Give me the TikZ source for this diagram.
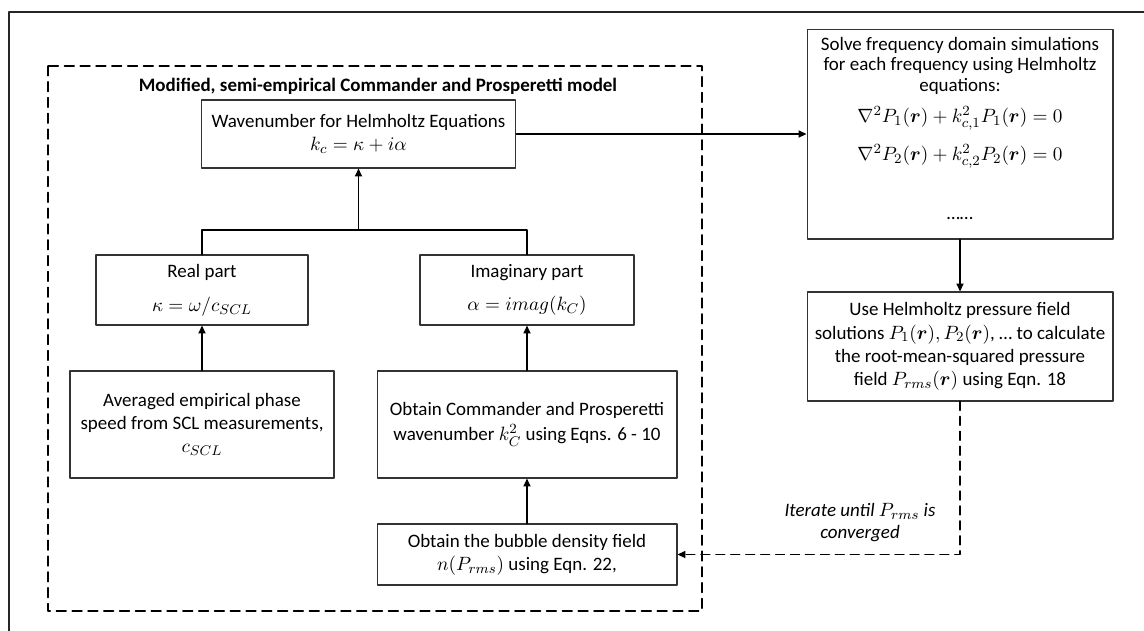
\documentclass[tikz,border=0pt]{standalone}
\usepackage{fontspec}
\usepackage{amsmath}
\setmainfont{Carlito}
\usetikzlibrary{arrows.meta}

\begin{document}
\begin{tikzpicture}[x=0.02cm, y=-0.02cm, line cap=round, line join=round,
    >={Triangle[length=4.5pt,width=4pt]},
    box/.style={draw=black!80, line width=0.6pt, align=center, inner sep=2pt,
      font=\fontsize{10.8}{13.2}\selectfont},
    flow/.style={->, line width=0.9pt},
    iterline/.style={->, line width=0.9pt, dash pattern=on 5pt off 3.5pt}]
  \useasboundingbox (0,0) rectangle (1144,630);

  % Outer frame (top and left edges)
  \draw[line width=0.9pt, black!85] (9,640) -- (9,12) -- (1150,12);

  % Model region
  \draw[line width=0.9pt, dash pattern=on 5.5pt off 3.5pt] (48,66) rectangle (702,611);
  \node[font=\fontsize{10.8}{12}\selectfont\bfseries] (title) at (378,86)
    {Modified, semi-empirical Commander and Prosperetti model};

  % Boxes
  \node[box, minimum width=6.3cm, minimum height=1.36cm] (wave) at (358.5,134)
    {Wavenumber for Helmholtz Equations\\ $k_c = \kappa + i\alpha$};
  \node[box, minimum width=4.24cm, minimum height=1.4cm] (real) at (202,290)
    {Real part\\[6pt] $\kappa = \omega/c_{SCL}$};
  \node[box, minimum width=4.28cm, minimum height=1.4cm] (imag) at (527,290)
    {Imaginary part\\[6pt] $\alpha = imag(k_C)$};
  \node[box, minimum width=5.28cm, minimum height=2.14cm] (avg) at (202,424.5)
    {Averaged empirical phase\\ speed from SCL measurements,\\ $c_{SCL}$};
  \node[box, minimum width=6cm, minimum height=2.14cm] (comm) at (527,424.5)
    {Obtain Commander and Prosperetti\\[1pt] wavenumber $k_C^2$ using Eqns. 6 - 10};
  \node[box, minimum width=6cm, minimum height=1.22cm] (bubble) at (527,554.5)
    {Obtain the bubble density field\\ $n(P_{rms})$ using Eqn. 22,};
  \node[box, minimum width=6.12cm, minimum height=4.2cm,
    font=\fontsize{10.8}{11.6}\selectfont] (solve) at (960,134)
    {Solve frequency domain simulations\\ for each frequency using Helmholtz\\ equations:\\[6pt]
     $\nabla^2 P_1(\boldsymbol{r}) + k_{c,1}^2 P_1(\boldsymbol{r}) = 0$\\[7pt]
     $\nabla^2 P_2(\boldsymbol{r}) + k_{c,2}^2 P_2(\boldsymbol{r}) = 0$\\[22pt]
     \dots\dots\\[-5pt]\mbox{}};
  \node[box, minimum width=6.12cm, minimum height=2.18cm] (use) at (960,346.5)
    {Use Helmholtz pressure field\\ solutions $P_1(\boldsymbol{r}), P_2(\boldsymbol{r})$, \dots\ to calculate\\
     the root-mean-squared pressure\\ field $P_{rms}(\boldsymbol{r})$ using Eqn. 18};

  % Connectors
  \coordinate (split) at (358.5,230);
  \draw[line width=0.9pt] (real.north) -- (real.north |- split) -- (imag.north |- split) -- (imag.north);
  \draw[flow] (split) -- (wave.south);
  \draw[flow] (avg) -- (real);
  \draw[flow] (comm) -- (imag);
  \draw[flow] (bubble) -- (comm);
  \draw[flow] (wave) -- (solve.west |- wave);
  \draw[flow] (solve.south -| use.north) -- (use);
  \draw[iterline] (use.south) |- (bubble.east);
  \node[font=\fontsize{10.8}{12.5}\selectfont\itshape, align=center] (iter) at (860,523)
    {Iterate until $P_{rms}$ is\\ converged};
\end{tikzpicture}
\end{document}
